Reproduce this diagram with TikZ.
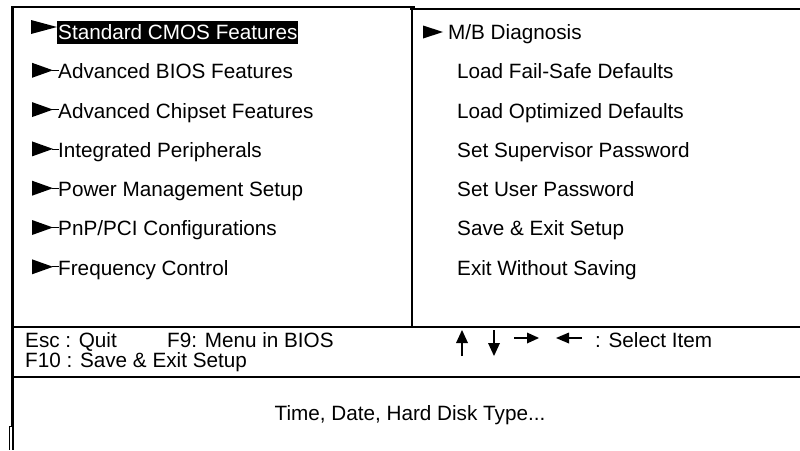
\documentclass[tikz,border=0pt]{standalone}
\usepackage{fontspec}
\setmainfont{Liberation Sans}
\begin{document}
\begin{tikzpicture}[x=1pt,y=-1pt,
  rule/.style={line width=2.4pt,line cap=rect},
  thinrule/.style={line width=2pt},
  item/.style={anchor=base west,inner sep=0pt,font=\fontsize{20.7}{24}\selectfont},
  tri/.style={fill=black},
  keyarrow/.style={line width=1.6pt}]
\useasboundingbox (0,0) rectangle (800,450);
% frame
\draw[rule] (12.5,7) -- (414,7);
\draw[rule] (411,9) -- (800,9);
\draw[rule] (12.5,7) -- (12.5,426);
\draw[line width=1.4pt] (9.7,426) -- (9.7,450);
\draw[line width=2pt] (13,426) -- (13,450);
\draw[line width=1.2pt] (9.2,426.5) -- (13.5,426.5);
\draw[thinrule] (412,8) -- (412,327);
\draw[thinrule] (12.5,327) -- (800,327);
\draw[thinrule] (12.5,377) -- (800,377);
% highlight
\fill[black] (57,21) rectangle (298,44);
% left items
\fill[tri] (31,20) -- (31,34) -- (57,27) -- cycle;
\foreach \i in {1,...,6}{
  \pgfmathsetmacro{\cy}{32+39.3*\i-1}
  \fill[tri] (32,\cy-7.5) -- (32,\cy+7.5) -- (53,\cy) -- cycle;
  \draw[line width=0.8pt] (52,\cy) -- (59,\cy);
}
\node[item,text=white] (l1) at (58,39.4) {Standard CMOS Features};
\node[item] (l2) at (58,78.7) {Advanced BIOS Features};
\node[item] (l3) at (58,118) {Advanced Chipset Features};
\node[item] (l4) at (58,157.3) {Integrated Peripherals};
\node[item] (l5) at (58,196.6) {Power Management Setup};
\node[item] (l6) at (58,235.9) {PnP/PCI Configurations};
\node[item] (l7) at (58,275.2) {Frequency Control};
% right items
\fill[tri] (423,25.5) -- (423,38.5) -- (443,32) -- cycle;
\node[item] (r1) at (448,39.4) {M/B Diagnosis};
\node[item] (r2) at (457,78.7) {Load Fail-Safe Defaults};
\node[item] (r3) at (457,118) {Load Optimized Defaults};
\node[item] (r4) at (457,157.3) {Set Supervisor Password};
\node[item] (r5) at (457,196.6) {Set User Password};
\node[item] (r6) at (457,235.9) {Save \& Exit Setup};
\node[item] (r7) at (457,275.2) {Exit Without Saving};
% bottom keys
\node[item] (esc) at (25,347) {Esc : Quit};
\node[item] (f9) at (167,347) {F9: Menu in BIOS};
\node[item] (f10) at (25,367) {F10 : Save \& Exit Setup};
\node[item] (sel) at (595,347) {: Select Item};
% arrows
\draw[keyarrow] (462,356) -- (462,340);
\fill (456,343) -- (468,343) -- (462,330) -- cycle;
\draw[keyarrow] (494,330) -- (494,346);
\fill (488,343) -- (500,343) -- (494,356) -- cycle;
\draw[keyarrow] (514,338) -- (530,338);
\fill (527,332.5) -- (527,343.5) -- (539,338) -- cycle;
\draw[keyarrow] (582,338) -- (566,338);
\fill (569,332.5) -- (569,343.5) -- (556,338) -- cycle;
% help line
\node[item,anchor=base] (help) at (410,420) {Time, Date, Hard Disk Type...};
\end{tikzpicture}
\end{document}
